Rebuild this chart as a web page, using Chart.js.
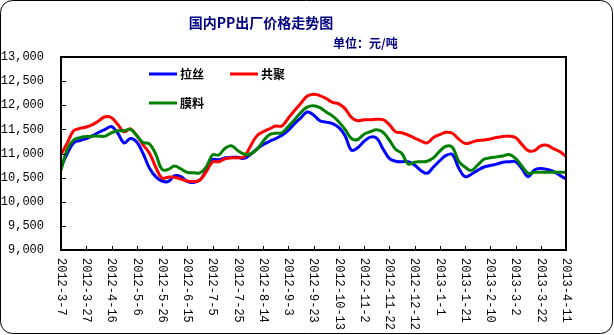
<!DOCTYPE html>
<html>
<head>
<meta charset="utf-8">
<script src="https://cdn.jsdelivr.net/npm/chart.js@4"></script>
<style>
    html, body { margin: 0; padding: 0; background: #fff; }
    #wrap { width: 614px; height: 335px; }
</style>
</head>
<body>
<div id="wrap"><canvas id="ppChart" width="614" height="335"></canvas></div>
<script>
// 出厂价格，每5天一个点
const dates = [
    '2012-3-7', '2012-3-12', '2012-3-17', '2012-3-22', '2012-3-27', '2012-4-1', '2012-4-6', '2012-4-11', '2012-4-16', '2012-4-21',
    '2012-4-26', '2012-5-1', '2012-5-6', '2012-5-11', '2012-5-16', '2012-5-21', '2012-5-26', '2012-5-31', '2012-6-5', '2012-6-10',
    '2012-6-15', '2012-6-20', '2012-6-25', '2012-6-30', '2012-7-5', '2012-7-10', '2012-7-15', '2012-7-20', '2012-7-25', '2012-7-30',
    '2012-8-4', '2012-8-9', '2012-8-14', '2012-8-19', '2012-8-24', '2012-8-29', '2012-9-3', '2012-9-8', '2012-9-13', '2012-9-18',
    '2012-9-23', '2012-9-28', '2012-10-3', '2012-10-8', '2012-10-13', '2012-10-18', '2012-10-23', '2012-10-28', '2012-11-2', '2012-11-7',
    '2012-11-12', '2012-11-17', '2012-11-22', '2012-11-27', '2012-12-2', '2012-12-7', '2012-12-12', '2012-12-17', '2012-12-22', '2012-12-27',
    '2013-1-1', '2013-1-6', '2013-1-11', '2013-1-16', '2013-1-21', '2013-1-26', '2013-1-31', '2013-2-5', '2013-2-10', '2013-2-15',
    '2013-2-20', '2013-2-25', '2013-3-2', '2013-3-7', '2013-3-12', '2013-3-17', '2013-3-22', '2013-3-27', '2013-4-1', '2013-4-6',
    '2013-4-11'
];

const laSi = [
    10720, 11000, 11220, 11270, 11310, 11370, 11440, 11500, 11560, 11420,
    11220, 11310, 11240, 11000, 10700, 10520, 10430, 10420, 10540, 10520,
    10420, 10400, 10450, 10650, 10870, 10870, 10910, 10920, 10920, 10900,
    10980, 11090, 11180, 11250, 11310, 11380, 11480, 11620, 11740, 11860,
    11800, 11680, 11650, 11620, 11540, 11370, 11070, 11120, 11250, 11340,
    11320, 11100, 10900, 10840, 10830, 10830, 10760, 10650, 10590, 10720,
    10850, 10960, 10980, 10700, 10520, 10570, 10650, 10720, 10750, 10780,
    10820, 10830, 10830, 10690, 10520, 10660, 10690, 10670, 10630, 10550,
    10470
];

const gongJu = [
    10980, 11220, 11470, 11520, 11550, 11600, 11680, 11760, 11740, 11600,
    11450, 11510, 11370, 11180, 11010, 10720, 10490, 10510, 10510, 10470,
    10430, 10420, 10450, 10620, 10820, 10830, 10890, 10910, 10910, 10930,
    11150, 11360, 11450, 11510, 11570, 11570, 11730, 11890, 12040, 12190,
    12230, 12200, 12140, 12060, 12030, 11930, 11750, 11680, 11700, 11700,
    11710, 11700, 11600, 11450, 11430, 11380, 11320, 11260, 11220, 11330,
    11390, 11440, 11420, 11300, 11210, 11230, 11270, 11280, 11300, 11330,
    11350, 11360, 11330, 11190, 11060, 11060, 11160, 11170, 11100, 11040,
    10940
];

const moLiao = [
    10650, 11090, 11280, 11330, 11350, 11360, 11360, 11360, 11430, 11470,
    11470, 11500, 11370, 11230, 11200, 10990, 10670, 10670, 10740, 10680,
    10610, 10600, 10600, 10720, 10970, 10970, 11110, 11160, 11060, 10990,
    10990, 11080, 11250, 11390, 11420, 11430, 11560, 11700, 11850, 11960,
    11990, 11950, 11860, 11780, 11660, 11500, 11310, 11290, 11400, 11450,
    11490, 11440, 11280, 11090, 11000, 10780, 10820, 10830, 10840, 10910,
    11050, 11150, 11130, 10840, 10720, 10650, 10760, 10880, 10910, 10930,
    10950, 10980, 10900, 10740, 10590, 10610, 10610, 10610, 10610, 10610,
    10610
];

const yMin = 9000;
const yMax = 13000;
const yStep = 500;
const labelEvery = 4;

const cjkFont = '"Noto Sans CJK SC", "Noto Sans CJK JP", sans-serif';
const numFont = '"Liberation Mono", "DejaVu Sans Mono", monospace';

// 外框、标题、图例、刻度线和竖排日期
const decorations = {
    id: 'decorations',
    afterDraw(chart) {
        const ctx = chart.ctx;
        const area = chart.chartArea;
        const xs = chart.scales.x;
        const ys = chart.scales.y;

        ctx.save();
        ctx.strokeStyle = '#000';
        ctx.lineWidth = 1;

        ctx.beginPath();
        ctx.roundRect(0.5, 0.5, 612, 333, 12);
        ctx.stroke();

        ctx.beginPath();
        ys.ticks.forEach(t => {
            const y = Math.round(ys.getPixelForValue(t.value)) + 0.5;
            ctx.moveTo(area.left, y);
            ctx.lineTo(area.left + 5, y);
        });
        for (let i = 0; i < dates.length; i += labelEvery) {
            const x = Math.round(xs.getPixelForValue(i)) + 0.5;
            ctx.moveTo(x, area.bottom);
            ctx.lineTo(x, area.bottom - 4);
        }
        ctx.stroke();

        ctx.lineWidth = 2;
        ctx.strokeRect(Math.round(area.left), Math.round(area.top),
            Math.round(area.right - area.left), Math.round(area.bottom - area.top));

        ctx.fillStyle = '#000';
        ctx.font = '12px ' + numFont;
        ctx.textAlign = 'left';
        ctx.textBaseline = 'middle';
        for (let i = 0; i < dates.length; i += labelEvery) {
            const x = xs.getPixelForValue(i);
            ctx.save();
            ctx.translate(x, area.bottom + 8);
            ctx.rotate(Math.PI / 2);
            ctx.fillText(dates[i], 0, 0);
            ctx.restore();
        }

        ctx.fillStyle = '#000080';
        ctx.font = 'bold 14px ' + cjkFont;
        ctx.textAlign = 'center';
        ctx.fillText('国内PP出厂价格走势图', 261, 23);
        ctx.font = 'bold 12px ' + cjkFont;
        ctx.textAlign = 'left';
        ctx.fillText('单位：元/吨', 333, 43);

        const legend = [
            { text: '拉丝', color: '#0000ff', x: 149, y: 74 },
            { text: '共聚', color: '#ff0000', x: 230, y: 74 },
            { text: '膜料', color: '#008000', x: 149, y: 103 }
        ];
        legend.forEach(item => {
            ctx.strokeStyle = item.color;
            ctx.lineWidth = 3;
            ctx.beginPath();
            ctx.moveTo(item.x, item.y);
            ctx.lineTo(item.x + 28, item.y);
            ctx.stroke();
            ctx.fillStyle = '#000';
            ctx.font = 'bold 12px ' + cjkFont;
            ctx.fillText(item.text, item.x + 31, item.y);
        });
        ctx.restore();
    }
};

const lineStyle = {
    borderWidth: 3,
    pointRadius: 0,
    tension: 0.4,
    fill: false
};

new Chart(document.getElementById('ppChart'), {
    type: 'line',
    data: {
        labels: dates,
        datasets: [
            { label: '拉丝', data: laSi, borderColor: '#0000ff', order: 2, ...lineStyle },
            { label: '共聚', data: gongJu, borderColor: '#ff0000', order: 1, ...lineStyle },
            { label: '膜料', data: moLiao, borderColor: '#008000', order: 0, ...lineStyle }
        ]
    },
    options: {
        responsive: false,
        animation: false,
        layout: { padding: { left: 0, right: 48, top: 57, bottom: 0 } },
        plugins: {
            legend: { display: false },
            tooltip: { enabled: false }
        },
        scales: {
            x: {
                offset: false,
                grid: { display: false },
                border: { display: false },
                ticks: { display: false },
                afterFit: s => { s.height = 85; }
            },
            y: {
                min: yMin,
                max: yMax,
                grid: { display: false },
                border: { display: false },
                ticks: {
                    stepSize: yStep,
                    padding: 9,
                    color: '#000',
                    font: { family: numFont, size: 12 },
                    callback: v => v.toLocaleString('en-US')
                },
                afterFit: s => { s.width = 61; }
            }
        }
    },
    plugins: [decorations]
});
</script>
</body>
</html>
